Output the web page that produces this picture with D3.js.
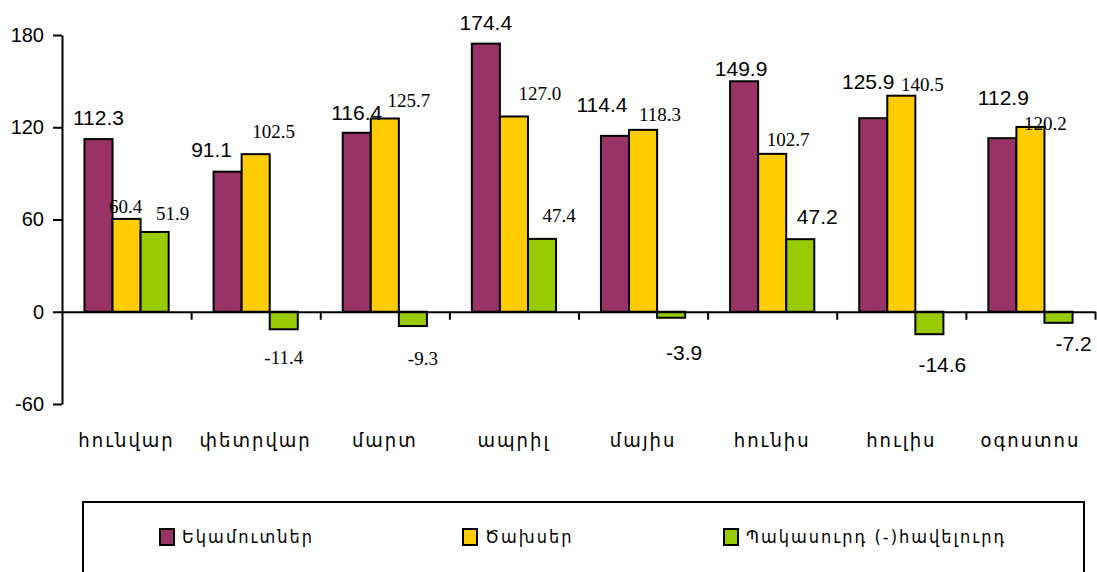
<!DOCTYPE html>
<html>
<head>
<meta charset="utf-8">
<script src="https://cdn.jsdelivr.net/npm/d3@7"></script>
<style>
  body { margin: 0; background: #fff; }
  svg { display: block; }
</style>
</head>
<body>
<div id="chart"></div>
<script>
// months (Armenian)
const months = ["հունվար", "փետրվար", "մարտ", "ապրիլ", "մայիս", "հունիս", "հուլիս", "օգոստոս"];
const seriesNames = ["Եկամուտներ", "Ծախսեր", "Պակասուրդ (-)հավելուրդ"];
const revenue = [112.3, 91.1, 116.4, 174.4, 114.4, 149.9, 125.9, 112.9];
const expenses = [60.4, 102.5, 125.7, 127.0, 118.3, 102.7, 140.5, 120.2];
const balance = [51.9, -11.4, -9.3, 47.4, -3.9, 47.2, -14.6, -7.2];
const yTicks = [-60, 0, 60, 120, 180];

const colors = ["#993366", "#ffcc00", "#99cc00"];

// label nudges: [dx, gap from bar end]
const labelNudge = [
  [[0, 21], [-16, 22], [0, 20], [0, 21], [-13, 31], [-3, 13], [-5, 37], [1, 41]],
  [[-1, 13], [18, 23], [24, 18], [26, 23], [17, 16], [16, 14], [21, 11], [15, 4]],
  [[18, 19], [0, 28], [10, 32], [17, 24], [13, 35], [17, 23], [13, 30], [15, 21]]
];
// which labels use the serif face
const serifLabel = [
  [false, false, false, false, false, false, false, false],
  [true, true, true, true, true, true, true, true],
  [true, true, true, true, false, false, false, false]
];

const width = 1097, height = 572;
const plotLeft = 62, plotRight = 1095, plotTop = 35, plotBottom = 404;
const armFont = "'DejaVu Sans Condensed', 'DejaVu Sans', sans-serif";

const svg = d3.select("#chart").append("svg")
  .attr("width", width)
  .attr("height", height);

const y = d3.scaleLinear().domain([-60, 180]).range([plotBottom, plotTop]);
const x0 = d3.scaleBand().domain(months).range([plotLeft, plotRight]).padding(0);
const x1 = d3.scaleBand().domain([0, 1, 2]).range([0, x0.bandwidth()])
  .paddingInner(0).paddingOuter(0.8);

const data = months.map((m, i) => ({
  month: m,
  values: [revenue[i], expenses[i], balance[i]]
}));

// bars
const groups = svg.append("g").selectAll("g")
  .data(data)
  .enter().append("g")
  .attr("transform", d => `translate(${x0(d.month)},0)`);

groups.selectAll("rect")
  .data(d => d.values.map((v, s) => ({v: v, s: s})))
  .enter().append("rect")
  .attr("x", d => x1(d.s))
  .attr("width", x1.bandwidth())
  .attr("y", d => y(Math.max(0, d.v)))
  .attr("height", d => Math.abs(y(d.v) - y(0)))
  .attr("fill", d => colors[d.s])
  .attr("stroke", "#000")
  .attr("stroke-width", 2);

// y axis
const yAxis = svg.append("g")
  .attr("transform", `translate(${plotLeft},0)`)
  .call(d3.axisLeft(y).tickValues(yTicks).tickFormat(d => String(d))
    .tickSize(9).tickPadding(9).tickSizeOuter(0));
yAxis.select(".domain").attr("stroke-width", 2);
yAxis.selectAll(".tick line").attr("stroke-width", 2);
yAxis.selectAll("text")
  .style("font-family", "'Liberation Sans', Arial, sans-serif")
  .style("font-size", "20px")
  .attr("fill", "#000");

// zero line with category separators
const xb = d3.scaleLinear().domain([0, months.length]).range([plotLeft, plotRight]);
const xAxis = svg.append("g")
  .attr("transform", `translate(0,${y(0)})`)
  .call(d3.axisBottom(xb).tickValues(d3.range(1, months.length + 1))
    .tickSize(8).tickSizeOuter(0).tickFormat(""));
xAxis.select(".domain").attr("stroke-width", 2);
xAxis.selectAll(".tick line").attr("stroke-width", 2);

// month labels
svg.append("g").selectAll("text")
  .data(months)
  .enter().append("text")
  .attr("x", d => x0(d) + x0.bandwidth() / 2)
  .attr("y", 440)
  .attr("dy", "0.35em")
  .attr("text-anchor", "middle")
  .style("font-family", armFont)
  .style("font-size", "20px")
  .style("letter-spacing", "2px")
  .text(d => d);

// value labels
data.forEach((d, i) => {
  d.values.forEach((v, s) => {
    const nudge = labelNudge[s][i];
    const cx = x0(d.month) + x1(s) + x1.bandwidth() / 2 + nudge[0];
    const cy = v >= 0 ? y(v) - nudge[1] : y(v) + nudge[1];
    const serif = serifLabel[s][i];
    svg.append("text")
      .attr("x", cx)
      .attr("y", cy)
      .attr("dy", "0.35em")
      .attr("text-anchor", "middle")
      .style("font-family", serif ? "'Liberation Serif', 'Times New Roman', serif" : "'Liberation Sans', Arial, sans-serif")
      .style("font-size", serif ? "19px" : "21px")
      .text(v.toFixed(1));
  });
});

// legend
const legend = svg.append("g");
legend.append("rect")
  .attr("x", 83).attr("y", 502)
  .attr("width", 1001).attr("height", 110)
  .attr("fill", "none")
  .attr("stroke", "#000")
  .attr("stroke-width", 2);

const legendX = [160, 463, 724];
const items = legend.selectAll(".item")
  .data(seriesNames)
  .enter().append("g")
  .attr("class", "item")
  .attr("transform", (d, i) => `translate(${legendX[i]},537)`);
items.append("rect")
  .attr("x", 0).attr("y", -8)
  .attr("width", 14).attr("height", 16)
  .attr("fill", (d, i) => colors[i])
  .attr("stroke", "#000")
  .attr("stroke-width", 2);
items.append("text")
  .attr("x", 22)
  .attr("dy", "0.35em")
  .style("font-family", armFont)
  .style("font-size", "18px")
  .style("letter-spacing", "2px")
  .text(d => d);
</script>
</body>
</html>
